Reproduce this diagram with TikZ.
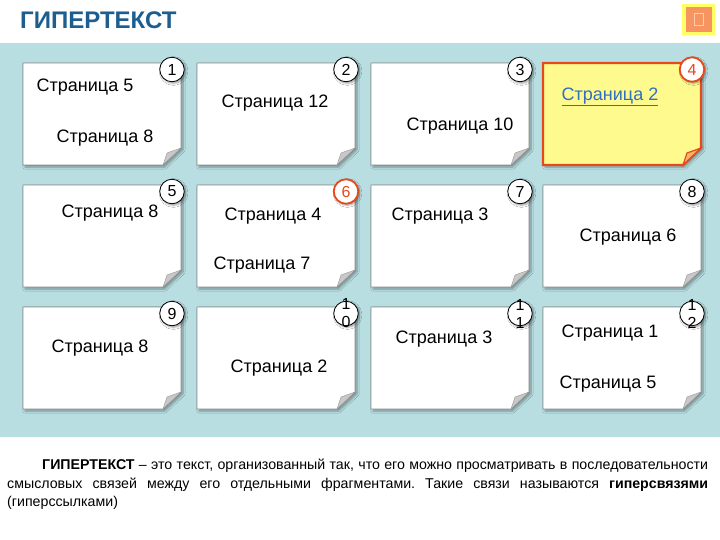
\documentclass[tikz,border=0pt]{standalone}
\usepackage{fontspec}
\setmainfont{Liberation Sans}
\usetikzlibrary{shadows.blur}
\definecolor{band}{HTML}{B9DEE2}
\definecolor{titleblue}{HTML}{1B5E8F}
\definecolor{hot}{HTML}{E5491C}
\definecolor{stick}{HTML}{FFFA8E}
\definecolor{linkblue}{HTML}{2F6FC4}
\definecolor{cardline}{HTML}{8C8C8C}
\definecolor{foldfill}{HTML}{C8C8C8}
\definecolor{foldline}{HTML}{969696}
\definecolor{foldhotfill}{HTML}{F7B26E}
\definecolor{iconyellow}{HTML}{FFFF64}
\definecolor{iconorange}{HTML}{F79460}
\definecolor{iconglyph}{HTML}{FFCDAF}
\tikzset{
  cardshape/.style={fill=white, draw=cardline, line width=0.6pt,
    blur shadow={shadow xshift=2pt, shadow yshift=-2pt, shadow blur steps=6, shadow opacity=35}},
  cardshapehb/.style={cardshape},
  cardshapehot/.style={fill=stick, draw=hot, line width=2.4pt,
    blur shadow={shadow xshift=2pt, shadow yshift=-2pt, shadow blur steps=6, shadow opacity=35}},
  fold/.style={fill=foldfill, draw=foldline, line width=0.4pt},
  foldhb/.style={fold},
  foldhot/.style={fill=foldhotfill, draw=hot, line width=1.2pt},
  badge/.style={circle, fill=white, draw=black, line width=0.8pt, minimum size=24.5pt, inner sep=0pt,
    font=\fontsize{16}{16}\selectfont,
    blur shadow={shadow xshift=1.5pt, shadow yshift=-1.5pt, shadow blur steps=5, shadow opacity=40}},
  badgehot/.style={badge, draw=hot, line width=1.8pt, text=hot},
  badgehb/.style={badgehot},
  badgetext/.style={align=center, inner sep=0pt, font=\fontsize{16}{18}\selectfont},
  pg/.style={font=\fontsize{18}{18}\selectfont, inner sep=0pt},
}
% #1 left, #2 top, #3 number, #4 style suffix
\newcommand\pcard[4]{%
  \path[cardshape#4] (#1,#2) -- ++(158,0) -- ++(0,85) -- ++(-18,17) -- ++(-140,0) -- cycle;
  \path[fold#4] (#1+158,#2+85) -- (#1+140,#2+102) -- (#1+144,#2+90) -- cycle;
  \node[badge#4] (b#3) at (#1+149,#2+6.5) {#3};
}
\newcommand\pcardtwo[5]{%
  \path[cardshape] (#1,#2) -- ++(158,0) -- ++(0,85) -- ++(-18,17) -- ++(-140,0) -- cycle;
  \path[fold] (#1+158,#2+85) -- (#1+140,#2+102) -- (#1+144,#2+90) -- cycle;
  \node[badge] (b#3) at (#1+149,#2+6.5) {};
  \node[badgetext] (bt#3) at (b#3) {#4\\#5};
}
\begin{document}
\begin{tikzpicture}[x=1pt,y=-1pt]
\useasboundingbox (0,0) rectangle (720,540);
\fill[white] (0,0) rectangle (720,540);
\fill[band] (0,43) rectangle (720,437);
% title
\node[anchor=west, inner sep=0pt, text=titleblue, font=\bfseries\fontsize{24}{24}\selectfont] (title) at (20,20) {ГИПЕРТЕКСТ};
% icon
\fill[iconyellow] (682,4) rectangle (715,35);
\fill[iconorange] (686,7) rectangle (712,32);
\draw[iconglyph, line width=0.6pt] (694,13) rectangle (703,25);
% row 1
\pcard{23}{63}{1}{}
\pcard{197}{63}{2}{}
\pcard{371}{63}{3}{}
\pcard{543}{63}{4}{hot}
% row 2
\pcard{23}{185}{5}{}
\pcard{197}{185}{6}{hb}
\pcard{371}{185}{7}{}
\pcard{543}{185}{8}{}
% row 3
\pcard{23}{307}{9}{}
\pcardtwo{197}{307}{10}{1}{0}
\pcardtwo{371}{307}{11}{1}{1}
\pcardtwo{543}{307}{12}{1}{2}
% texts
\node[pg] (t1a) at (85,87) {Страница 5};
\node[pg] (t1b) at (105,138) {Страница 8};
\node[pg] (t2) at (275,103) {Страница 12};
\node[pg] (t3) at (460,126) {Страница 10};
\node[pg, text=linkblue] (t4) at (610,97) {\underline{Страница 2}};
\node[pg] (t5) at (110,213) {Страница 8};
\node[pg] (t6a) at (273,216) {Страница 4};
\node[pg] (t6b) at (262,265) {Страница 7};
\node[pg] (t7) at (440,216) {Страница 3};
\node[pg] (t8) at (628,237) {Страница 6};
\node[pg] (t9) at (100,348) {Страница 8};
\node[pg] (t10) at (279,368) {Страница 2};
\node[pg] (t11) at (444,339) {Страница 3};
\node[pg] (t12a) at (610,333) {Страница 1};
\node[pg] (t12b) at (608,384) {Страница 5};
% definition
\node[anchor=north west, inner sep=0pt, text width=701pt, align=justify,
      font=\frenchspacing\fontsize{14.2}{18.5}\selectfont] (def) at (7,459)
  {\hspace*{35pt}\textbf{ГИПЕРТЕКСТ} – это текст, организованный так, что его можно просматривать в последовательности\linebreak
  смысловых связей между его отдельными фрагментами. Такие связи называются \textbf{гиперсвязями}\linebreak
  (гиперссылками)};
\end{tikzpicture}
\end{document}
